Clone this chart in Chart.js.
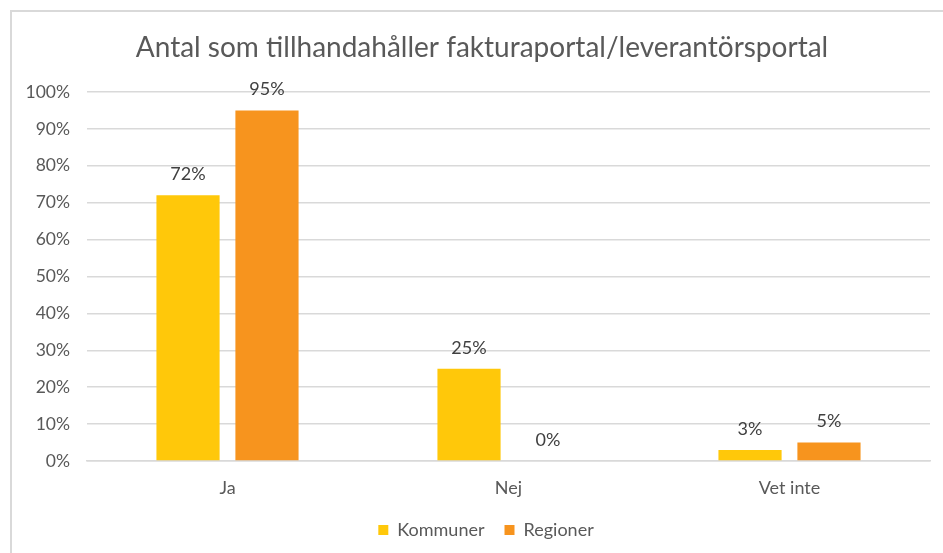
<!DOCTYPE html>
<html>
<head>
<meta charset="utf-8">
<script src="https://cdn.jsdelivr.net/npm/chart.js@4"></script>
<style>
  html, body { margin: 0; padding: 0; background: #fff; }
  #wrap { position: relative; width: 943px; height: 553px; overflow: hidden; }
  #frame { position: absolute; left: 10px; top: 10px; width: 960px; height: 600px;
           border: 2px solid #d9d9d9; box-sizing: border-box; }
  canvas { position: absolute; left: 0; top: 0; }
</style>
</head>
<body>
<div id="wrap">
  <div id="frame"></div>
  <canvas id="chart" width="943" height="553"></canvas>
</div>
<script>
// chart data
const chartTitle = "Antal som tillhandahåller fakturaportal/leverantörsportal";
const categories = ["Ja", "Nej", "Vet inte"];
const kommuner   = [72, 25, 3];
const regioner   = [95, 0, 5];
const yTicks     = [0, 10, 20, 30, 40, 50, 60, 70, 80, 90, 100];

const colors = {
  kommuner: "#FFC80A",
  regioner: "#F7941E",
  grid:     "#d9d9d9",
  text:     "#595959",
  label:    "#404040",
};

const fontFamily = "Lato, 'Open Sans', sans-serif";

// title drawn centred on the outer frame rather than the plot
const titlePlugin = {
  id: "frameTitle",
  afterLayout(chart) {
    // nudge the legend so it sits centred on the frame too
    if (chart.legend) {
      chart.legend.left += 21;
      chart.legend.right += 21;
    }
  },
  afterDraw(chart) {
    const { ctx } = chart;
    ctx.save();
    ctx.font = `28px ${fontFamily}`;
    ctx.fillStyle = colors.text;
    ctx.textAlign = "center";
    ctx.textBaseline = "middle";
    ctx.fillText(chartTitle, 482, 48);
    ctx.restore();
  },
};

// simple value labels above bars
const valueLabels = {
  id: "valueLabels",
  afterDatasetsDraw(chart) {
    const { ctx } = chart;
    ctx.save();
    ctx.font = `18px ${fontFamily}`;
    ctx.fillStyle = colors.label;
    ctx.textAlign = "center";
    ctx.textBaseline = "middle";
    chart.data.datasets.forEach((ds, i) => {
      const meta = chart.getDatasetMeta(i);
      meta.data.forEach((bar, j) => {
        ctx.fillText(`${ds.data[j]}%`, bar.x, bar.y - 21);
      });
    });
    ctx.restore();
  },
};

new Chart(document.getElementById("chart"), {
  type: "bar",
  data: {
    labels: categories,
    datasets: [
      { label: "Kommuner", data: kommuner, backgroundColor: colors.kommuner },
      { label: "Regioner", data: regioner, backgroundColor: colors.regioner },
    ],
  },
  options: {
    responsive: false,
    animation: false,
    categoryPercentage: 0.562,
    barPercentage: 0.8,
    layout: { padding: { left: 0, right: 13, top: 92, bottom: 4 } },
    plugins: {
      title: { display: false },
      legend: {
        position: "bottom",
        labels: {
          color: colors.text,
          font: { size: 18, family: fontFamily },
          boxWidth: 10,
          boxHeight: 10,
          padding: 20,
        },
      },
      tooltip: { enabled: false },
    },
    scales: {
      y: {
        min: 0,
        max: 100,
        afterFit: s => { s.width = 87; },
        afterBuildTicks: s => { s.ticks = yTicks.map(v => ({ value: v })); },
        border: { display: false },
        grid: { color: colors.grid, lineWidth: 1.5, drawTicks: false },
        ticks: {
          color: colors.text,
          padding: 17,
          font: { size: 17.5, family: fontFamily },
          callback: v => `${v}%`,
        },
      },
      x: {
        afterFit: s => { s.height = 40; },
        border: { color: colors.grid, width: 1.5 },
        grid: { display: false },
        ticks: {
          color: colors.text,
          padding: 8,
          font: { size: 18, family: fontFamily },
        },
      },
    },
  },
  plugins: [valueLabels, titlePlugin],
});
</script>
</body>
</html>
